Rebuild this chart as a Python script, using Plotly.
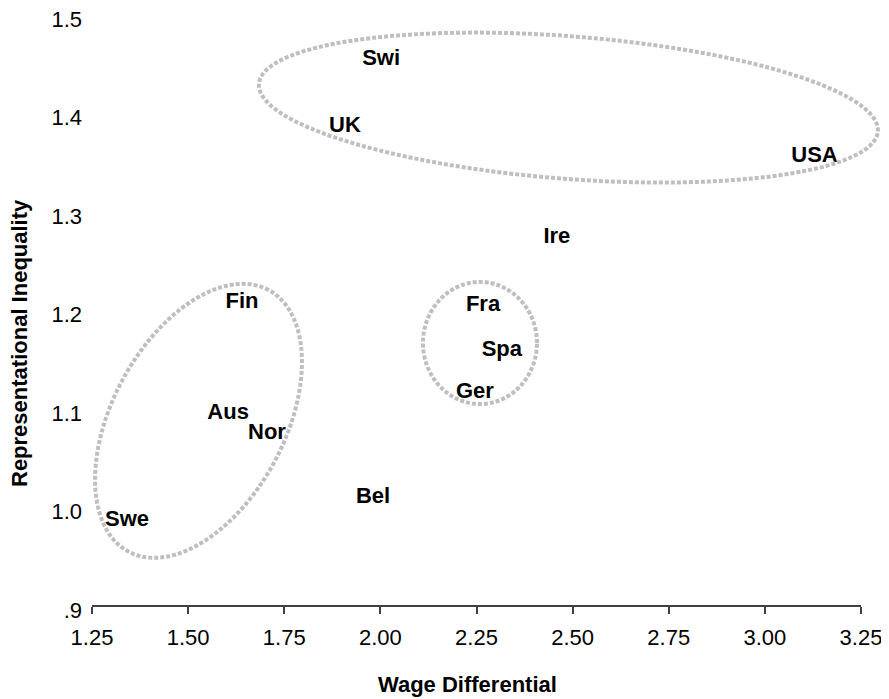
import numpy as np
import plotly.graph_objects as go

# ---- data ----
countries = ["Swi", "UK", "USA", "Ire", "Fin", "Fra", "Spa", "Ger", "Aus", "Nor", "Bel", "Swe"]
wage_diff = [2.002, 1.908, 3.129, 2.459, 1.640, 2.267, 2.316, 2.246, 1.604, 1.705, 1.981, 1.341]
rep_ineq = [1.454, 1.386, 1.355, 1.273, 1.207, 1.204, 1.158, 1.116, 1.094, 1.074, 1.009, 0.986]

x_tickvals = [1.25, 1.50, 1.75, 2.00, 2.25, 2.50, 2.75, 3.00, 3.25]
x_ticktext = ["1.25", "1.50", "1.75", "2.00", "2.25", "2.50", "2.75", "3.00", "3.25"]
y_tickvals = [0.9, 1.0, 1.1, 1.2, 1.3, 1.4, 1.5]
y_ticktext = [".9", "1.0", "1.1", "1.2", "1.3", "1.4", "1.5"]

x_title = "Wage Differential"
y_title = "Representational Inequality"

# ---- layout geometry (page has an 8px body margin, so figure is 8px smaller) ----
W, H = 881, 691
ML, MR, MT, MB = 84, 28, 6, 94
XR = [1.25, 3.25]
YR = [0.9, 1.5]
plot_w = W - ML - MR
plot_h = H - MT - MB

# group ellipses: centre (data units), semi-axes (px), rotation (deg)
ellipses = [
    dict(cx=2.489, cy=1.405, a=310.4, b=71.3, ang=-4.4),
    dict(cx=1.527, cy=1.087, a=148.4, b=86.3, ang=61.8),
    dict(cx=2.259, cy=1.166, a=57.0, b=61.0, ang=0.0),
]


def ellipse_path(e, n=180):
    t = np.linspace(0, 2 * np.pi, n, endpoint=False)
    phi = np.radians(e["ang"])
    dx = e["a"] * np.cos(t) * np.cos(phi) - e["b"] * np.sin(t) * np.sin(phi)
    dy = e["a"] * np.cos(t) * np.sin(phi) + e["b"] * np.sin(t) * np.cos(phi)
    xs = (e["cx"] - XR[0]) / (XR[1] - XR[0]) + dx / plot_w
    ys = (e["cy"] - YR[0]) / (YR[1] - YR[0]) + dy / plot_h
    pts = [f"{x:.5f},{y:.5f}" for x, y in zip(xs, ys)]
    return "M " + " L ".join(pts) + " Z"


FONT = "Liberation Sans, Arial, sans-serif"

fig = go.Figure()
fig.add_trace(go.Scatter(
    x=wage_diff, y=rep_ineq, text=countries, mode="text",
    textposition="middle center",
    textfont=dict(family=FONT, size=22, color="#000000", weight="bold"),
    cliponaxis=False, showlegend=False, hoverinfo="skip",
))

shapes = []
for e in ellipses:
    shapes.append(dict(
        type="path", path=ellipse_path(e), xref="paper", yref="paper", layer="above",
        line=dict(color="#BFBFBF", width=4, dash="4px,2px"),
        fillcolor="rgba(0,0,0,0)",
    ))

fig.update_layout(
    width=W, height=H,
    margin=dict(l=ML, r=MR, t=MT, b=MB, pad=0, autoexpand=False),
    paper_bgcolor="white", plot_bgcolor="white",
    showlegend=False,
    shapes=shapes,
    xaxis=dict(
        range=XR, tickvals=x_tickvals, ticktext=x_ticktext, automargin=False,
        showgrid=False, zeroline=False,
        showline=True, linecolor="#404040", linewidth=2,
        ticks="outside", ticklen=7, tickwidth=1.5, tickcolor="#404040",
        ticklabelstandoff=5, ticklabeloverflow="allow",
        tickfont=dict(family=FONT, size=22, color="#000000"),
    ),
    yaxis=dict(
        range=YR, tickvals=y_tickvals, ticktext=y_ticktext, automargin=False,
        showgrid=False, zeroline=False, showline=False, ticks="",
        ticklabelshift=5, ticklabelstandoff=9, ticklabeloverflow="allow",
        tickfont=dict(family=FONT, size=22, color="#000000"),
    ),
    annotations=[
        dict(text=f"<b>{x_title}</b>", xref="paper", yref="paper",
             x=(459.5 - ML) / plot_w, y=(H - MB - 676) / plot_h,
             xanchor="center", yanchor="middle", showarrow=False,
             font=dict(family=FONT, size=22, color="#000000")),
        dict(text=f"<b>{y_title}</b>", xref="paper", yref="paper",
             x=(12 - ML) / plot_w, y=(H - MB - 335) / plot_h,
             xanchor="center", yanchor="middle", showarrow=False, textangle=-90,
             font=dict(family=FONT, size=22, color="#000000")),
    ],
)

fig.write_html("out.html")
